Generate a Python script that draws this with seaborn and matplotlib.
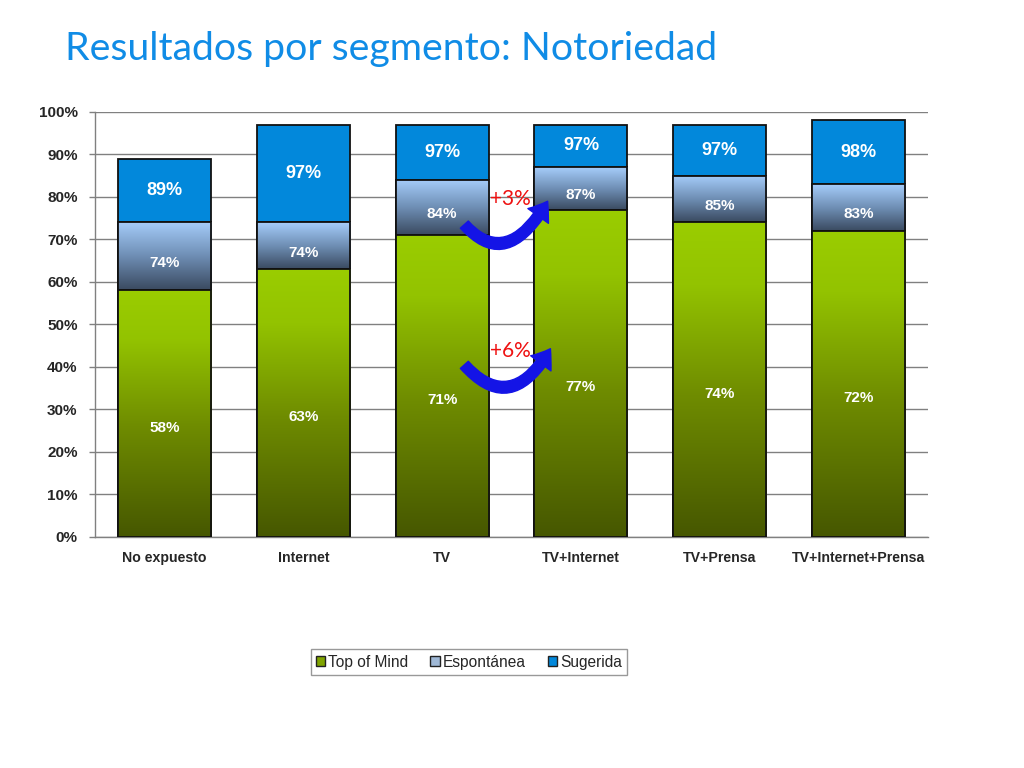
import numpy as np
import pandas as pd
import matplotlib
matplotlib.use("Agg")
import matplotlib.pyplot as plt
import seaborn as sns
from matplotlib.colors import LinearSegmentedColormap
from matplotlib.patches import FancyArrowPatch, Rectangle, Patch

# ---------------- data ----------------
categories = ["No expuesto", "Internet", "TV", "TV+Internet", "TV+Prensa", "TV+Internet+Prensa"]
top_of_mind = [58, 63, 71, 77, 74, 72]          # cumulative level 1
espontanea = [74, 74, 84, 87, 85, 83]           # cumulative level 2
sugerida = [89, 97, 97, 97, 97, 98]             # cumulative level 3
series_names = ["Top of Mind", "Espontánea", "Sugerida"]
y_ticks = [0, 10, 20, 30, 40, 50, 60, 70, 80, 90, 100]
gain_labels = ["+3%", "+6%"]
title = "Resultados por segmento: Notoriedad"

df = pd.DataFrame({"cat": categories, "tom": top_of_mind, "esp": espontanea, "sug": sugerida})

sns.set_style("white")
plt.rcParams["font.family"] = ["Liberation Sans", "DejaVu Sans"]

fig = plt.figure(figsize=(10.24, 7.68), dpi=100)
ax = fig.add_axes([0.0928, 0.3008, 0.8135, 0.5534])

W = 0.67
EDGE = "#111111"
LW = 1.3

# Sugerida (solid)
sns.barplot(data=df, x="cat", y="sug", order=categories, color="#0288DB", width=W,
            edgecolor=EDGE, linewidth=LW, saturation=1, errorbar=None, zorder=2, ax=ax)
# Espontanea
sns.barplot(data=df, x="cat", y="esp", order=categories, color="#8fb4dc", width=W,
            edgecolor=EDGE, linewidth=LW, saturation=1, errorbar=None, zorder=3, ax=ax)
esp_patches = list(ax.containers[-1])
# Top of mind
sns.barplot(data=df, x="cat", y="tom", order=categories, color="#88b000", width=W,
            edgecolor=EDGE, linewidth=LW, saturation=1, errorbar=None, zorder=4, ax=ax)
tom_patches = list(ax.containers[-1])

cmap_green = LinearSegmentedColormap.from_list(
    "g", [(0.0, "#465700"), (0.45, "#6f8c00"), (0.8, "#93c300"), (1.0, "#9acd00")])
cmap_blue = LinearSegmentedColormap.from_list(
    "b", [(0.0, "#3a4a60"), (0.5, "#6f8fb5"), (1.0, "#a6cdfb")])

grad = np.linspace(0, 1, 256).reshape(-1, 1)


def paint(patches, bottoms, tops, cmap, z):
    for p, b, t in zip(patches, bottoms, tops):
        x0 = p.get_x()
        w = p.get_width()
        im = ax.imshow(grad, cmap=cmap, origin="lower", aspect="auto",
                       extent=[x0, x0 + w, b, t], zorder=z + 0.1, interpolation="bicubic")
        im.set_clip_path(p)
        ax.add_patch(Rectangle((x0, 0), w, t, fill=False, edgecolor=EDGE,
                               linewidth=LW, zorder=z + 0.2))


paint(esp_patches, top_of_mind, espontanea, cmap_blue, 3)
paint(tom_patches, [0] * len(top_of_mind), top_of_mind, cmap_green, 4)

ax.set_xlim(-0.5, len(categories) - 0.5)
ax.set_ylim(0, 100)

# labels
for i in range(len(categories)):
    ax.text(i, top_of_mind[i] / 2 - 3.3, f"{top_of_mind[i]}%", ha="center", va="center",
            color="white", fontsize=11, fontweight="bold", zorder=10)
    ax.text(i, (top_of_mind[i] + espontanea[i]) / 2 - 1.6, f"{espontanea[i]}%", ha="center",
            va="center", color="white", fontsize=11, fontweight="bold", zorder=10)
    ax.text(i, (espontanea[i] + sugerida[i]) / 2, f"{sugerida[i]}%", ha="center", va="center",
            color="white", fontsize=13, fontweight="bold", zorder=10)

# axes styling
ax.set_yticks(y_ticks)
ax.set_yticklabels([f"{t}%" for t in y_ticks], fontsize=11, fontweight="bold")
ax.set_xticks(range(len(categories)))
ax.set_xticklabels(categories, fontsize=10.2, fontweight="bold")
ax.set_xticks(np.arange(0.5, len(categories) - 0.5, 1), minor=True)
ax.tick_params(axis="x", which="major", length=0, pad=10)
ax.tick_params(axis="x", which="minor", length=4, color="#808080", width=1, direction="out")
ax.tick_params(axis="y", length=4, color="#808080", width=1, direction="out", pad=8.5, left=True)
ax.set_xlabel("")
ax.set_ylabel("")
ax.yaxis.grid(True, color="#808080", linewidth=1)
ax.set_axisbelow(True)
for s in ["top", "right"]:
    ax.spines[s].set_visible(False)
for s in ["left", "bottom"]:
    ax.spines[s].set_color("#808080")
    ax.spines[s].set_linewidth(1)

# arrows
arrow_kw = dict(arrowstyle="simple,head_width=1.3,head_length=0.9,tail_width=0.55",
                color="#1414e6", mutation_scale=14, zorder=12, shrinkA=0, shrinkB=0,
                connectionstyle="angle3,angleA=-48,angleB=60")
ax.add_patch(FancyArrowPatch((2.16, 73.5), (2.76, 79.0), **arrow_kw))
ax.add_patch(FancyArrowPatch((2.16, 40.5), (2.78, 44.3), **arrow_kw))
ax.text(2.49, 79.5, gain_labels[0], color="#ee1111", fontsize=15, ha="center", va="center",
        family=["Lato", "DejaVu Sans"], zorder=13)
ax.text(2.49, 43.8, gain_labels[1], color="#ee1111", fontsize=15, ha="center", va="center",
        family=["Lato", "DejaVu Sans"], zorder=13)

# legend
handles = [Patch(facecolor="#80a400", edgecolor="#222222", linewidth=1),
           Patch(facecolor="#9fb8d6", edgecolor="#222222", linewidth=1),
           Patch(facecolor="#0288DB", edgecolor="#222222", linewidth=1)]
leg = fig.legend(handles, series_names, loc="center", bbox_to_anchor=(0.458, 0.138), ncol=3,
                 fontsize=11.2, frameon=True, fancybox=False, edgecolor="#808080",
                 handlelength=0.6, handleheight=0.6, handletextpad=0.2, columnspacing=1.4,
                 borderpad=0.35, borderaxespad=0)
leg.get_frame().set_linewidth(1)

fig.text(0.0635, 0.936, title, color="#108ce6", fontsize=28.3, ha="left", va="center",
         family=["Lato", "DejaVu Sans"])

fig.savefig("out.png", dpi=100)
